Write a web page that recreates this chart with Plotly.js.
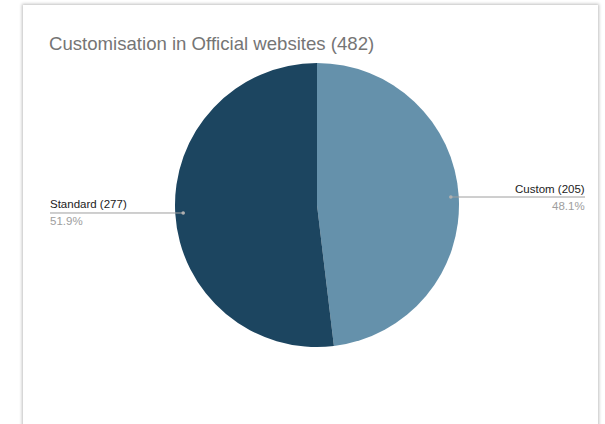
<!DOCTYPE html>
<html>
<head>
<meta charset="utf-8">
<script src="https://cdn.plot.ly/plotly-3.0.1.min.js"></script>
<style>
html,body{margin:0;padding:0;background:#ffffff;width:605px;height:424px;overflow:hidden;}
#card{position:absolute;left:23px;top:5px;width:575px;height:440px;background:#fff;box-shadow:0 0 3px 1px rgba(0,0,0,0.25);}
#chart{position:absolute;left:0;top:0;width:605px;height:424px;}
</style>
</head>
<body>
<div id="card"></div>
<div id="chart"></div>
<script>
const titleText = "Customisation in Official websites (482)";
const categories = ["Custom (205)", "Standard (277)"];
const values = [48.1, 51.9];
const colors = ["#6591ab", "#1c4560"];

const W = 605, H = 424;
const cx = 317, cy = 205, R = 142;
const domX = [(cx - R) / W, (cx + R) / W];
const domY = [(H - cy - R) / H, (H - cy + R) / H];

const total = values.reduce((a, b) => a + b, 0);
const shapes = [];
const annotations = [];
let cum = 0;
values.forEach((v, i) => {
  const frac = v / total;
  const mid = (cum + frac / 2) * 2 * Math.PI;
  cum += frac;
  const px = cx + R * 0.944 * Math.sin(mid);
  const py = cy - R * 0.944 * Math.cos(mid);
  const right = Math.sin(mid) > 0;
  const endX = right ? 585 : 50;
  const txtX = right ? endX + 2 : endX - 2;
  const xp = (p) => p / W, yp = (p) => 1 - p / H;
  shapes.push({type: "line", xref: "paper", yref: "paper", x0: xp(px), x1: xp(endX), y0: yp(py), y1: yp(py),
    line: {color: "#9e9e9e", width: 1}});
  shapes.push({type: "circle", xref: "paper", yref: "paper", x0: xp(px - 1.8), x1: xp(px + 1.8), y0: yp(py - 1.8), y1: yp(py + 1.8),
    line: {width: 0}, fillcolor: "#b0b0b0"});
  annotations.push({xref: "paper", yref: "paper", x: xp(txtX), y: yp(py - 0.5), xanchor: right ? "right" : "left", yanchor: "bottom",
    text: categories[i], showarrow: false,
    font: {family: "Liberation Sans, Arial, sans-serif", size: 11.5, color: "#222222"}});
  annotations.push({xref: "paper", yref: "paper", x: xp(txtX), y: yp(py + 0.5), xanchor: right ? "right" : "left", yanchor: "top",
    text: (frac * 100).toFixed(1) + "%", showarrow: false,
    font: {family: "Liberation Sans, Arial, sans-serif", size: 11.5, color: "#9e9e9e"}});
});

const data = [{
  type: "pie",
  labels: categories,
  values: values,
  sort: false,
  direction: "clockwise",
  rotation: 0,
  marker: {colors: colors, line: {width: 0}},
  textinfo: "none",
  hoverinfo: "label+percent",
  domain: {x: domX, y: domY},
  showlegend: false
}];

const layout = {
  width: W, height: H,
  margin: {l: 0, r: 0, t: 0, b: 0},
  paper_bgcolor: "rgba(0,0,0,0)",
  plot_bgcolor: "rgba(0,0,0,0)",
  title: {text: titleText, x: 49 / W, xanchor: "left", xref: "paper", y: 1 - 43 / H, yanchor: "middle", yref: "container",
    font: {family: "Liberation Sans, Arial, sans-serif", size: 18.6, color: "#757575"}},
  shapes: shapes,
  annotations: annotations,
  showlegend: false
};

Plotly.newPlot("chart", data, layout, {displayModeBar: false, staticPlot: true});
</script>
</body>
</html>
